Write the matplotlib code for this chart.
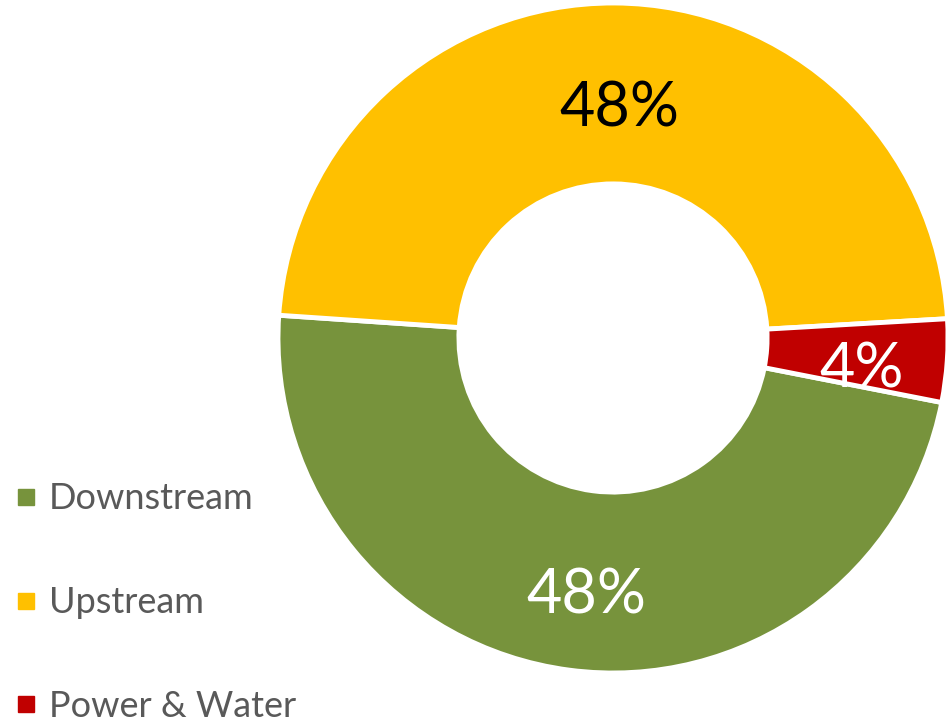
import matplotlib.pyplot as plt
from matplotlib.lines import Line2D

segments = ["Downstream", "Upstream", "Power & Water"]
shares = [48, 48, 4]
colors = ["#77933C", "#FFC000", "#C00000"]
label_colors = ["white", "black", "white"]

plt.rcParams["font.family"] = ["Lato", "DejaVu Sans"]

fig = plt.figure(figsize=(9.47, 7.23), dpi=100)
ax = fig.add_axes([(613 - 335) / 947, 50 / 723, 670 / 947, 670 / 723])

wedges, texts = ax.pie(
    shares,
    colors=colors,
    startangle=-11.1,
    counterclock=False,
    radius=1.0,
    wedgeprops=dict(width=0.54, edgecolor="white", linewidth=3.5),
    labels=[f"{v}%" for v in shares],
    labeldistance=0.73,
)
for t, c in zip(texts, label_colors):
    x, y = t.get_position()
    t.set_position((x + 0.015, y - 0.045))
    t.set_color(c)
    t.set_fontsize(44)
    t.set_ha("center")
    t.set_va("center")

ax.set_xlim(-1, 1)
ax.set_ylim(-1, 1)
ax.set_aspect("equal")
ax.axis("off")

handles = [Line2D([], [], marker="s", linestyle="none", markersize=11,
                  markerfacecolor=c, markeredgecolor=c) for c in colors]
leg = fig.legend(handles, segments, loc="upper left",
                 bbox_to_anchor=(0.003, 1 - 468 / 723),
                 frameon=False, fontsize=26, labelspacing=1.96,
                 handlelength=0.5, handletextpad=0.38, borderaxespad=0)
for t in leg.get_texts():
    t.set_color("#595959")

fig.savefig("out.png", dpi=100)
